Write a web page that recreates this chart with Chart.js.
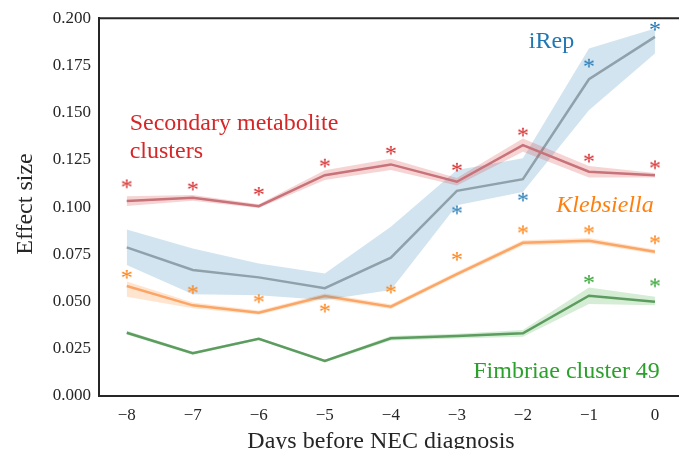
<!DOCTYPE html>
<html>
<head>
<meta charset="utf-8">
<script src="https://cdn.jsdelivr.net/npm/chart.js@4/dist/chart.umd.min.js"></script>
<style>
html,body{margin:0;padding:0;background:#fff;overflow:hidden;}
#wrap{width:679px;height:449px;position:relative;}
</style>
</head>
<body>
<div id="wrap"><canvas id="c" width="679" height="449"></canvas></div>
<script>
const days = [-8, -7, -6, -5, -4, -3, -2, -1, 0];
const xTicks = [-8, -7, -6, -5, -4, -3, -2, -1, 0];
const yTicks = [0, 0.025, 0.05, 0.075, 0.1, 0.125, 0.15, 0.175, 0.2];

const irepMean = [0.0787, 0.0667, 0.0628, 0.0571, 0.0732, 0.1086, 0.1148, 0.1677, 0.1901];
const irepLow  = [0.0693, 0.0538, 0.0534, 0.0508, 0.0561, 0.1010, 0.1080, 0.1513, 0.1813];
const irepHigh = [0.0882, 0.0781, 0.0702, 0.0649, 0.0896, 0.1196, 0.1258, 0.1840, 0.1945];
const irepStars = [null, null, null, null, null, 0.0987, 0.1055, 0.1764, 0.1959];

const smcMean = [0.1032, 0.1049, 0.1005, 0.1169, 0.1226, 0.1134, 0.1328, 0.1187, 0.1169];
const smcLow  = [0.1006, 0.1034, 0.0995, 0.1143, 0.1196, 0.1114, 0.1293, 0.1157, 0.1157];
const smcHigh = [0.1058, 0.1064, 0.1015, 0.1195, 0.1256, 0.1154, 0.1363, 0.1217, 0.1181];
const smcStars = [0.1125, 0.1113, 0.1085, 0.1235, 0.1302, 0.1213, 0.1399, 0.1261, 0.1226];

const klebMean = [0.0582, 0.0480, 0.0441, 0.0529, 0.0473, 0.0645, 0.0811, 0.0822, 0.0764];
const klebLow  = [0.0525, 0.0465, 0.0430, 0.0515, 0.0460, 0.0632, 0.0797, 0.0808, 0.0752];
const klebHigh = [0.0606, 0.0495, 0.0452, 0.0543, 0.0486, 0.0658, 0.0825, 0.0836, 0.0776];
const klebStars = [0.0646, 0.0565, 0.0517, 0.0467, 0.0568, 0.0741, 0.0882, 0.0882, 0.0829];

const fimbMean = [0.0335, 0.0226, 0.0303, 0.0185, 0.0306, 0.0317, 0.0332, 0.0531, 0.0499];
const fimbLow  = [0.0325, 0.0218, 0.0296, 0.0178, 0.0294, 0.0305, 0.0314, 0.0487, 0.0481];
const fimbHigh = [0.0345, 0.0234, 0.0310, 0.0192, 0.0318, 0.0329, 0.0350, 0.0575, 0.0525];
const fimbStars = [null, null, null, null, null, null, null, 0.0619, 0.0601];

const SERIF = '"Liberation Serif", "DejaVu Serif", serif';

function pts(arr) { return days.map((d, i) => ({ x: d, y: arr[i] })); }

function makeStar(color) {
  const c = document.createElement('canvas');
  c.width = 16; c.height = 16;
  const ctx = c.getContext('2d');
  ctx.font = '24px ' + SERIF;
  ctx.fillStyle = color;
  ctx.textAlign = 'center';
  ctx.textBaseline = 'alphabetic';
  const m = ctx.measureText('*');
  const a = m.actualBoundingBoxAscent, d = m.actualBoundingBoxDescent;
  ctx.fillText('*', 8, 8 + (a - d) / 2);
  return c;
}

function starSet(arr, color) {
  return { data: pts(arr), showLine: false, pointStyle: makeStar(color), pointRadius: 6, fill: false, borderWidth: 0 };
}
function lineSet(arr, color) {
  return { data: pts(arr), borderColor: color, borderWidth: 2.5, pointRadius: 0, fill: false, tension: 0 };
}
function bandSets(low, high, fillColor) {
  return [
    { data: pts(low), borderWidth: 0, pointRadius: 0, fill: false, borderColor: 'rgba(0,0,0,0)' },
    { data: pts(high), borderWidth: 0, pointRadius: 0, fill: '-1', backgroundColor: fillColor, borderColor: 'rgba(0,0,0,0)' }
  ];
}

const datasets = [
  starSet(smcStars, '#d62728'),
  starSet(irepStars, '#1f77b4'),
  starSet(klebStars, '#ff7f0e'),
  starSet(fimbStars, '#2ca02c'),
  lineSet(smcMean, '#c8727a'),
  ...bandSets(smcLow, smcHigh, 'rgba(214,39,40,0.2)'),
  lineSet(irepMean, '#8fa1ab'),
  ...bandSets(irepLow, irepHigh, 'rgba(31,119,180,0.2)'),
  lineSet(klebMean, '#fba667'),
  ...bandSets(klebLow, klebHigh, 'rgba(255,127,14,0.2)'),
  lineSet(fimbMean, '#5c9c5f'),
  ...bandSets(fimbLow, fimbHigh, 'rgba(44,160,44,0.2)')
];

const decor = {
  id: 'decor',
  afterDraw(chart) {
    const ctx = chart.ctx, ca = chart.chartArea;
    const x = chart.scales.x, y = chart.scales.y;
    ctx.save();
    // top spine
    ctx.strokeStyle = '#262626';
    ctx.lineWidth = 2;
    ctx.beginPath();
    ctx.moveTo(ca.left - 1, ca.top);
    ctx.lineTo(ca.right, ca.top);
    ctx.stroke();
    // annotations
    ctx.textBaseline = 'alphabetic';
    ctx.textAlign = 'left';
    ctx.font = '24px ' + SERIF;
    ctx.fillStyle = '#1f77b4';
    ctx.fillText('iRep', x.getPixelForValue(-1.91), y.getPixelForValue(0.1844));
    ctx.fillStyle = '#d62728';
    ctx.fillText('Secondary metabolite', x.getPixelForValue(-7.955), y.getPixelForValue(0.1410));
    ctx.fillText('clusters', x.getPixelForValue(-7.955), y.getPixelForValue(0.1260));
    ctx.fillStyle = '#2ca02c';
    ctx.fillText('Fimbriae cluster 49', x.getPixelForValue(-2.752), y.getPixelForValue(0.0094));
    ctx.font = 'italic 24px ' + SERIF;
    ctx.fillStyle = '#ff7f0e';
    ctx.fillText('Klebsiella', x.getPixelForValue(-1.494), y.getPixelForValue(0.0975));
    // axis titles
    ctx.fillStyle = '#262626';
    ctx.font = '24px ' + SERIF;
    ctx.textAlign = 'center';
    ctx.fillText('Days before NEC diagnosis', 381, 448);
    ctx.translate(32, 204);
    ctx.rotate(-Math.PI / 2);
    ctx.fillText('Effect size', 0, 0);
    ctx.restore();
  }
};

new Chart(document.getElementById('c'), {
  type: 'line',
  data: { datasets },
  options: {
    responsive: false,
    animation: false,
    events: [],
    layout: { padding: { top: 18, right: 0, left: 0, bottom: 0 }, autoPadding: false },
    plugins: { legend: { display: false }, tooltip: { enabled: false } },
    scales: {
      x: {
        type: 'linear',
        min: -8.42,
        max: 0.364,
        afterFit(s) { s.height = 53; },
        afterBuildTicks(s) { s.ticks = xTicks.map(v => ({ value: v })); },
        grid: { display: false, drawTicks: false },
        border: { display: true, color: '#262626', width: 2 },
        ticks: {
          padding: 9,
          color: '#262626',
          font: { family: SERIF, size: 17 },
          autoSkip: false,
          maxRotation: 0,
          callback: v => (v < 0 ? '\u2212' + Math.abs(v) : String(v))
        }
      },
      y: {
        min: 0,
        max: 0.2,
        afterFit(s) { s.width = 99; },
        afterBuildTicks(s) { s.ticks = yTicks.map(v => ({ value: v })); },
        grid: { display: false, drawTicks: false },
        border: { display: true, color: '#262626', width: 2 },
        ticks: {
          padding: 8,
          color: '#262626',
          font: { family: SERIF, size: 17 },
          callback: v => v.toFixed(3)
        }
      }
    }
  },
  plugins: [decor]
});
</script>
</body>
</html>
